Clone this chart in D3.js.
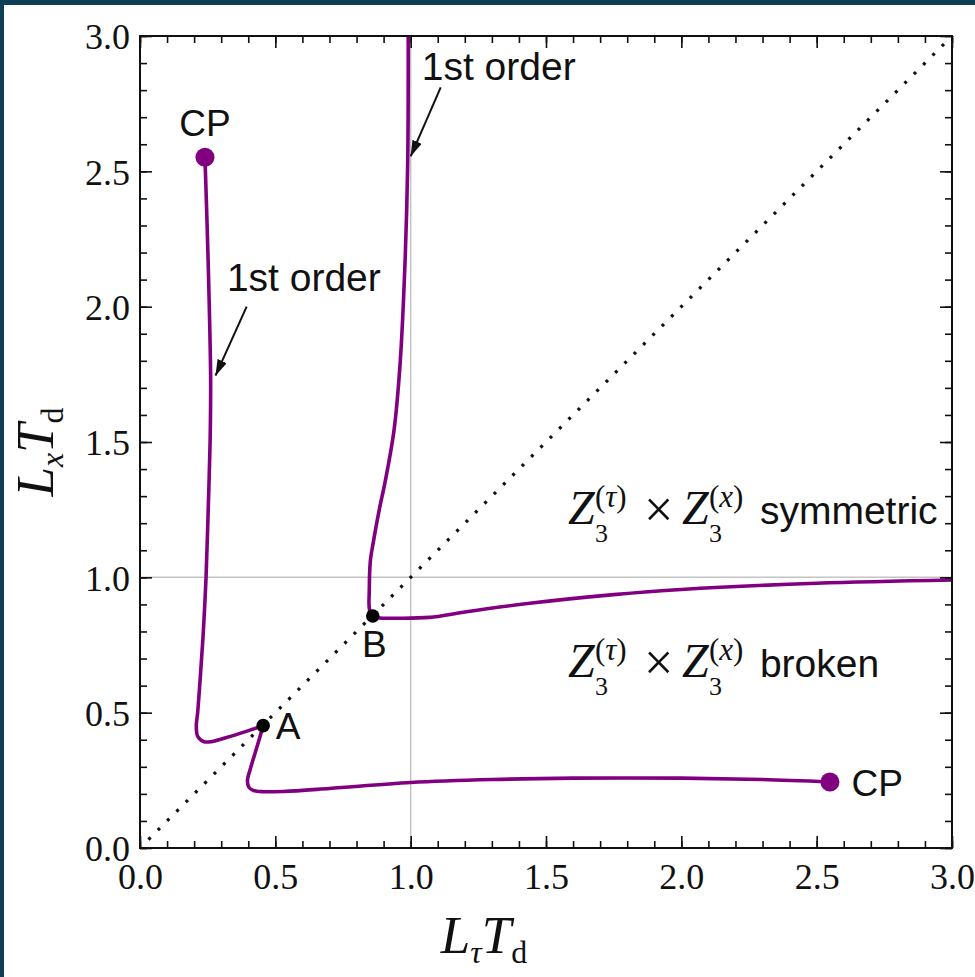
<!DOCTYPE html>
<html>
<head>
<meta charset="utf-8">
<script src="https://cdn.jsdelivr.net/npm/d3@7"></script>
<style>
html, body { margin: 0; padding: 0; background: #0f3f56; }
svg { display: block; }
</style>
</head>
<body>
<svg id="chart" width="975" height="977"></svg>
<script>
// Phase boundary, points are [L_tau T_d, L_x T_d]
const branchLeft = [
    [0.240, 2.552], [0.248, 2.30], [0.256, 2.00], [0.261, 1.73], [0.259, 1.50],
    [0.252, 1.25], [0.244, 1.00], [0.234, 0.80], [0.222, 0.62], [0.213, 0.50],
    [0.208, 0.45], [0.213, 0.413], [0.235, 0.393], [0.265, 0.393], [0.320, 0.408],
    [0.390, 0.430], [0.455, 0.452]
];
const branchBottom = [
    [0.455, 0.452], [0.443, 0.41], [0.425, 0.35], [0.407, 0.29], [0.397, 0.25],
    [0.402, 0.225], [0.418, 0.213], [0.455, 0.208], [0.530, 0.209], [0.700, 0.220],
    [1.00, 0.242], [1.30, 0.253], [1.60, 0.258], [2.00, 0.258], [2.30, 0.253],
    [2.549, 0.244]
];
const branchUpper = [
    [0.991, 3.00], [0.989, 2.53], [0.979, 2.16], [0.961, 1.79], [0.938, 1.54],
    [0.905, 1.35], [0.884, 1.25], [0.862, 1.13], [0.851, 1.06], [0.847, 0.95],
    [0.848, 0.88], [0.860, 0.857]
];
const branchRight = [
    [0.860, 0.857], [0.885, 0.850], [0.95, 0.849], [1.07, 0.852], [1.20, 0.872],
    [1.44, 0.904], [1.75, 0.936], [2.00, 0.955], [2.50, 0.978], [3.00, 0.990]
];

const criticalPoints = [[0.240, 2.552], [2.549, 0.244]];
const specialPoints = [
    { name: 'A', x: 0.455, y: 0.452 },
    { name: 'B', x: 0.860, y: 0.857 }
];

const majorTicks = [0, 0.5, 1.0, 1.5, 2.0, 2.5, 3.0];
const minorTicks = d3.range(0, 31).map(i => i / 10);
const tickLabels = ['0.0', '0.5', '1.0', '1.5', '2.0', '2.5', '3.0'];

// annotation anchors in data units
const cpLabels = [
    { text: 'CP', x: 0.240, y: 2.63, anchor: 'middle' },
    { text: 'CP', x: 2.629, y: 0.192, anchor: 'start' }
];
const pointLabels = [
    { text: 'A', x: 0.502, y: 0.403 },
    { text: 'B', x: 0.820, y: 0.706 }
];
const orderNotes = [
    { text: '1st order', x: 0.321, y: 2.058, from: [0.394, 2.00], to: [0.279, 1.745] },
    { text: '1st order', x: 1.041, y: 2.837, from: [1.111, 2.81], to: [1.000, 2.555] }
];
const phaseLabels = [
    { word: 'symmetric', x: 1.581, y: 1.197 },
    { word: 'broken', x: 1.581, y: 0.632 }
];

const purple = '#800080';
const serif = '"Liberation Serif", "Times New Roman", serif';
const sans = '"Liberation Sans", Arial, Helvetica, sans-serif';

function renderChart() {
    const svg = d3.select('#chart');
    const left = 140, right = 952, top = 36, bottom = 848;

    const x = d3.scaleLinear().domain([0, 3]).range([left, right]);
    const y = d3.scaleLinear().domain([0, 3]).range([bottom, top]);

    // white panel inside the dark border
    svg.append('rect').attr('x', 4).attr('y', 5).attr('width', 971).attr('height', 972).attr('fill', '#ffffff');

    const defs = svg.append('defs');
    defs.append('clipPath').attr('id', 'plotClip')
        .append('rect').attr('x', left).attr('y', top).attr('width', right - left).attr('height', bottom - top);
    defs.append('marker').attr('id', 'arrowHead')
        .attr('viewBox', '0 0 16 10').attr('refX', 16).attr('refY', 5)
        .attr('markerWidth', 16).attr('markerHeight', 10)
        .attr('markerUnits', 'userSpaceOnUse').attr('orient', 'auto')
        .append('path').attr('d', 'M0,0 L16,5 L0,10 Z').attr('fill', '#111');

    const plot = svg.append('g').attr('clip-path', 'url(#plotClip)');

    // grey guide lines at 1.0
    plot.append('line')
        .attr('x1', x(1)).attr('x2', x(1)).attr('y1', y(0)).attr('y2', y(3))
        .attr('stroke', '#c4c4c4').attr('stroke-width', 1.5);
    plot.append('line')
        .attr('x1', x(0)).attr('x2', x(3)).attr('y1', y(1)).attr('y2', y(1))
        .attr('stroke', '#c4c4c4').attr('stroke-width', 1.5);

    // dotted diagonal
    plot.append('line')
        .attr('x1', x(0)).attr('y1', y(0)).attr('x2', x(3)).attr('y2', y(3))
        .attr('stroke', '#111').attr('stroke-width', 3.2)
        .attr('stroke-dasharray', '3,10.2').attr('stroke-dashoffset', -12);

    // phase boundary curves
    const line = d3.line()
        .x(d => x(d[0])).y(d => y(d[1]))
        .curve(d3.curveCatmullRom.alpha(0.5));

    [branchLeft, branchBottom, branchUpper, branchRight].forEach(b => {
        plot.append('path').datum(b)
            .attr('d', line)
            .attr('fill', 'none')
            .attr('stroke', purple)
            .attr('stroke-width', 3.6)
            .attr('stroke-linejoin', 'round')
            .attr('stroke-linecap', 'round');
    });

    plot.selectAll('circle.cp').data(criticalPoints).enter().append('circle')
        .attr('class', 'cp')
        .attr('cx', d => x(d[0])).attr('cy', d => y(d[1]))
        .attr('r', 9.5).attr('fill', purple);

    plot.selectAll('circle.pt').data(specialPoints).enter().append('circle')
        .attr('class', 'pt')
        .attr('cx', d => x(d.x)).attr('cy', d => y(d.y))
        .attr('r', 6.8).attr('fill', '#000');

    // axes: ticks inward on all four sides
    const fmt = d => tickLabels[majorTicks.indexOf(d)];
    const axes = [
        { gen: d3.axisBottom(x), t: `translate(0,${bottom})`, labels: true },
        { gen: d3.axisTop(x), t: `translate(0,${top})`, labels: false },
        { gen: d3.axisLeft(y), t: `translate(${left},0)`, labels: true },
        { gen: d3.axisRight(y), t: `translate(${right},0)`, labels: false }
    ];
    axes.forEach(a => {
        const minor = svg.append('g').attr('transform', a.t)
            .call(a.gen.tickValues(minorTicks).tickSize(-7).tickFormat(''));
        minor.select('.domain').remove();
        minor.selectAll('line').attr('stroke', '#111').attr('stroke-width', 1.6);

        const major = svg.append('g').attr('transform', a.t)
            .call(a.gen.tickValues(majorTicks).tickSize(-12)
                .tickPadding(a.gen === axes[0].gen ? 15 : 10)
                .tickFormat(a.labels ? fmt : ''));
        major.select('.domain').remove();
        major.selectAll('line').attr('stroke', '#111').attr('stroke-width', 1.6);
        major.attr('font-family', serif).attr('font-size', 36);
        major.selectAll('text').attr('fill', '#111');
        if (a.gen === axes[2].gen) major.selectAll('text').attr('dy', '0.36em');
    });

    // frame
    svg.append('rect')
        .attr('x', left).attr('y', top).attr('width', right - left).attr('height', bottom - top)
        .attr('fill', 'none').attr('stroke', '#111').attr('stroke-width', 2);

    // CP, A, B labels
    svg.selectAll('text.cpl').data(cpLabels).enter().append('text')
        .attr('class', 'cpl')
        .attr('x', d => x(d.x)).attr('y', d => y(d.y))
        .attr('text-anchor', d => d.anchor)
        .attr('font-family', sans).attr('font-size', 37).attr('fill', '#111')
        .text(d => d.text);

    svg.selectAll('text.ptl').data(pointLabels).enter().append('text')
        .attr('class', 'ptl')
        .attr('x', d => x(d.x)).attr('y', d => y(d.y))
        .attr('font-family', sans).attr('font-size', 37).attr('fill', '#111')
        .text(d => d.text);

    // first order annotations with arrows
    orderNotes.forEach(n => {
        svg.append('text')
            .attr('x', x(n.x)).attr('y', y(n.y))
            .attr('font-family', sans).attr('font-size', 39).attr('fill', '#111')
            .text(n.text);
        svg.append('line')
            .attr('x1', x(n.from[0])).attr('y1', y(n.from[1]))
            .attr('x2', x(n.to[0])).attr('y2', y(n.to[1]))
            .attr('stroke', '#111').attr('stroke-width', 2)
            .attr('marker-end', 'url(#arrowHead)');
    });

    // Z3 x Z3 phase labels
    phaseLabels.forEach(p => drawPhaseLabel(svg, x(p.x), y(p.y), p.word));

    // axis titles
    const xt = svg.append('text')
        .attr('x', 484).attr('y', 953)
        .attr('text-anchor', 'middle')
        .attr('font-family', serif).attr('font-size', 53).attr('fill', '#111');
    xt.append('tspan').attr('font-style', 'italic').text('L');
    xt.append('tspan').attr('font-style', 'italic').attr('font-size', 32).attr('dy', 10).text('τ');
    xt.append('tspan').attr('font-style', 'italic').attr('dy', -10).text('T');
    xt.append('tspan').attr('font-size', 32).attr('dy', 10).text('d');

    const yt = svg.append('text')
        .attr('transform', 'translate(53,452) rotate(-90)')
        .attr('text-anchor', 'middle')
        .attr('font-family', serif).attr('font-size', 53).attr('fill', '#111');
    yt.append('tspan').attr('font-style', 'italic').text('L');
    yt.append('tspan').attr('font-style', 'italic').attr('font-size', 32).attr('dy', 10).text('x');
    yt.append('tspan').attr('font-style', 'italic').attr('dy', -10).text('T');
    yt.append('tspan').attr('font-size', 32).attr('dy', 10).text('d');
}

// Z_3^(tau) x Z_3^(x) <word>, one text element with placed tspans
function drawPhaseLabel(svg, x0, b, word) {
    const t = svg.append('text')
        .attr('x', x0).attr('y', b)
        .attr('font-family', serif).attr('fill', '#111');
    const zPart = (dx, supVar) => {
        t.append('tspan').attr('x', x0 + dx).attr('y', b)
            .attr('font-style', 'italic').attr('font-size', 48).text('Z');
        t.append('tspan').attr('x', x0 + dx + 27).attr('y', b - 17)
            .attr('font-size', 31).text('(');
        t.append('tspan').attr('font-style', 'italic').attr('font-size', 31).text(supVar);
        t.append('tspan').attr('font-size', 31).text(')');
        t.append('tspan').attr('x', x0 + dx + 27).attr('y', b + 18)
            .attr('font-size', 26).text('3');
    };
    zPart(0, 'τ');
    t.append('tspan').attr('x', x0 + 76).attr('y', b + 3)
        .attr('font-size', 52).text('×');
    zPart(114, 'x');
    t.append('tspan').attr('x', x0 + 192).attr('y', b)
        .attr('font-family', sans).attr('font-size', 39).text(word);
}

renderChart();
</script>
</body>
</html>
